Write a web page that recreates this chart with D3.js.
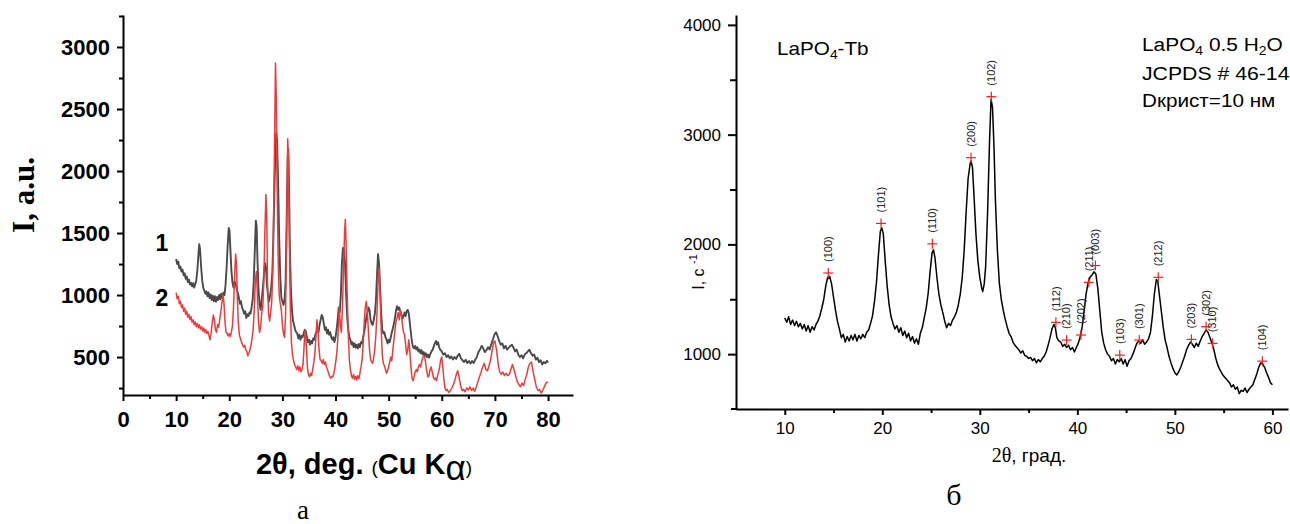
<!DOCTYPE html>
<html><head><meta charset="utf-8">
<script src="https://cdn.jsdelivr.net/npm/d3@7"></script>
<style>body{margin:0;background:#fff}svg{display:block}</style>
</head><body><svg id="c" width="1290" height="524"></svg>
<script>
// ---------- DATA: left panel (a) ----------
const leftXTicks = [0,10,20,30,40,50,60,70,80];
const leftXMinor = [5,15,25,35,45,55,65,75];
const leftYTicks = [500,1000,1500,2000,2500,3000];
const leftYMinor = [250,750,1250,1750,2250,2750,3250];
const seriesLabels = ["1","2"];
// sample 1 (gray): [2theta, intensity]
const sample1 = [[10.0,1290],[10.2,1250],[10.4,1270],[10.6,1215],[10.8,1230],[11.0,1190],[11.2,1205],[11.4,1160],[11.6,1175],[11.8,1130],[12.0,1150],[12.2,1105],[12.4,1125],[12.6,1085],[12.8,1100],[13.0,1070],[13.2,1095],[13.4,1060],[13.6,1090],[13.8,1120],[14.0,1200],[14.2,1330],[14.35,1410],[14.5,1370],[14.7,1230],[14.9,1120],[15.1,1060],[15.3,1035],[15.5,1010],[15.7,1030],[15.9,990],[16.1,1020],[16.3,975],[16.5,1005],[16.7,960],[16.9,995],[17.1,950],[17.3,990],[17.5,945],[17.7,985],[17.9,960],[18.1,1000],[18.3,965],[18.5,1010],[18.7,975],[18.9,1020],[19.1,1000],[19.3,1080],[19.5,1220],[19.7,1400],[19.9,1540],[20.05,1520],[20.2,1380],[20.4,1200],[20.6,1100],[20.8,1060],[21.0,1110],[21.2,1090],[21.4,1050],[21.6,1020],[21.8,980],[22.0,930],[22.2,950],[22.4,900],[22.6,880],[22.8,850],[23.0,870],[23.2,815],[23.4,845],[23.6,830],[23.8,860],[24.0,850],[24.2,900],[24.4,960],[24.6,1100],[24.8,1350],[25.0,1600],[25.15,1560],[25.3,1300],[25.5,1050],[25.7,930],[25.9,880],[26.1,960],[26.3,1050],[26.5,1150],[26.7,1260],[26.9,1230],[27.1,1080],[27.3,990],[27.5,950],[27.7,1000],[27.9,1060],[28.1,1180],[28.3,1450],[28.5,1850],[28.7,2200],[28.85,2310],[29.0,2250],[29.2,1900],[29.4,1450],[29.6,1150],[29.8,980],[30.0,950],[30.2,920],[30.4,960],[30.6,1100],[30.8,1600],[31.0,2100],[31.1,2180],[31.25,1900],[31.4,1400],[31.6,1050],[31.8,880],[32.0,790],[32.2,760],[32.4,720],[32.6,700],[32.8,690],[33.0,650],[33.2,680],[33.4,640],[33.6,670],[33.8,660],[34.0,690],[34.2,720],[34.4,710],[34.6,660],[34.8,620],[35.0,640],[35.2,600],[35.4,630],[35.6,610],[35.8,650],[36.0,640],[36.2,680],[36.4,700],[36.6,730],[36.8,700],[37.0,760],[37.2,800],[37.4,840],[37.6,820],[37.8,770],[38.0,720],[38.2,740],[38.4,690],[38.6,720],[38.8,680],[39.0,700],[39.2,660],[39.4,640],[39.6,660],[39.8,620],[40.0,660],[40.2,720],[40.4,800],[40.6,900],[40.8,860],[41.0,1000],[41.2,1250],[41.4,1380],[41.6,1360],[41.8,1250],[42.0,1000],[42.2,820],[42.4,720],[42.6,660],[42.8,640],[43.0,600],[43.2,620],[43.4,580],[43.6,610],[43.8,575],[44.0,600],[44.2,570],[44.4,605],[44.6,580],[44.8,620],[45.0,610],[45.2,660],[45.4,700],[45.6,760],[45.8,820],[46.0,860],[46.2,900],[46.4,880],[46.6,800],[46.8,770],[47.0,760],[47.2,800],[47.4,850],[47.6,950],[47.8,1150],[48.0,1330],[48.2,1250],[48.4,1050],[48.6,850],[48.8,720],[49.0,690],[49.2,700],[49.4,660],[49.6,640],[49.8,610],[50.0,640],[50.2,620],[50.4,660],[50.6,700],[50.8,730],[51.0,770],[51.2,820],[51.4,880],[51.6,910],[51.8,880],[52.0,900],[52.2,870],[52.4,840],[52.6,810],[52.8,830],[53.0,860],[53.2,830],[53.4,870],[53.6,880],[53.8,850],[54.0,770],[54.2,690],[54.4,620],[54.6,580],[54.8,570],[55.0,590],[55.2,560],[55.4,580],[55.6,545],[55.8,560],[56.0,530],[56.2,555],[56.4,520],[56.6,540],[56.8,510],[57.0,530],[57.2,500],[57.4,520],[57.6,495],[57.8,520],[58.0,540],[58.3,560],[58.6,600],[58.9,630],[59.1,600],[59.3,620],[59.5,580],[59.7,560],[60.0,545],[60.3,520],[60.6,530],[60.9,500],[61.2,515],[61.5,490],[61.8,505],[62.1,480],[62.4,500],[62.7,485],[63.0,510],[63.3,525],[63.6,490],[63.9,475],[64.2,460],[64.5,478],[64.8,452],[65.1,468],[65.4,448],[65.7,468],[66.0,452],[66.3,480],[66.6,500],[66.9,540],[67.2,560],[67.5,590],[67.8,570],[68.1,540],[68.4,555],[68.7,580],[69.0,560],[69.3,600],[69.6,640],[69.9,680],[70.2,700],[70.5,670],[70.8,630],[71.1,600],[71.4,610],[71.7,570],[72.0,590],[72.3,560],[72.6,575],[72.9,590],[73.2,600],[73.5,575],[73.8,545],[74.1,560],[74.4,520],[74.7,500],[75.0,515],[75.3,490],[75.6,520],[75.9,530],[76.2,545],[76.5,560],[76.8,530],[77.1,510],[77.4,520],[77.7,480],[78.0,495],[78.3,460],[78.6,475],[78.9,440],[79.2,460],[79.5,450],[79.8,470],[80.0,455]];
// sample 2 (red)
const sample2 = [[10.0,1020],[10.2,970],[10.4,990],[10.6,930],[10.8,950],[11.0,900],[11.2,920],[11.4,870],[11.6,895],[11.8,845],[12.0,870],[12.2,820],[12.4,845],[12.6,800],[12.8,825],[13.0,780],[13.2,800],[13.4,760],[13.6,785],[13.8,745],[14.0,770],[14.2,735],[14.4,760],[14.6,725],[14.8,745],[15.0,710],[15.2,735],[15.4,700],[15.6,720],[15.8,690],[16.0,705],[16.2,670],[16.4,640],[16.6,700],[16.8,780],[17.0,840],[17.2,800],[17.4,720],[17.6,700],[17.8,760],[18.0,740],[18.2,800],[18.4,860],[18.6,930],[18.8,1000],[19.0,940],[19.2,780],[19.4,700],[19.6,690],[19.8,670],[20.0,690],[20.2,665],[20.4,700],[20.6,750],[20.8,900],[21.0,1150],[21.2,1330],[21.35,1260],[21.5,1000],[21.7,780],[21.9,680],[22.1,650],[22.3,620],[22.5,600],[22.7,580],[22.9,595],[23.1,560],[23.3,545],[23.5,510],[23.7,530],[23.9,560],[24.1,600],[24.3,650],[24.5,720],[24.7,880],[24.9,1100],[25.1,1190],[25.3,1000],[25.5,780],[25.7,700],[25.9,740],[26.1,850],[26.3,900],[26.5,1100],[26.7,1500],[26.9,1810],[27.05,1650],[27.2,1100],[27.4,850],[27.6,790],[27.8,860],[28.0,950],[28.2,1200],[28.4,1800],[28.6,2500],[28.7,2870],[28.85,2600],[29.0,1900],[29.2,1300],[29.4,1000],[29.6,930],[29.8,880],[30.0,760],[30.2,690],[30.4,660],[30.6,850],[30.8,1500],[31.0,2260],[31.15,2100],[31.3,1500],[31.5,900],[31.7,620],[31.9,520],[32.1,470],[32.3,440],[32.5,420],[32.7,400],[32.9,430],[33.1,390],[33.3,420],[33.5,380],[33.7,400],[33.9,450],[34.1,600],[34.3,720],[34.5,600],[34.7,420],[34.9,360],[35.1,340],[35.3,370],[35.5,350],[35.7,400],[35.9,450],[36.1,520],[36.3,650],[36.5,800],[36.7,720],[36.9,560],[37.1,480],[37.3,470],[37.5,450],[37.7,480],[37.9,440],[38.1,460],[38.3,420],[38.5,400],[38.7,370],[38.9,345],[39.1,330],[39.3,345],[39.5,340],[39.7,370],[39.9,420],[40.1,480],[40.3,560],[40.5,700],[40.7,900],[40.9,760],[41.1,700],[41.3,900],[41.5,1200],[41.7,1500],[41.85,1610],[42.0,1400],[42.2,1000],[42.4,700],[42.6,480],[42.8,400],[43.0,350],[43.2,330],[43.4,360],[43.6,320],[43.8,345],[44.0,315],[44.2,350],[44.4,325],[44.6,370],[44.8,420],[45.0,480],[45.2,600],[45.4,780],[45.6,900],[45.8,950],[46.0,860],[46.2,700],[46.4,560],[46.6,480],[46.8,460],[47.0,450],[47.2,500],[47.4,560],[47.6,680],[47.8,850],[48.0,1100],[48.2,1220],[48.4,1000],[48.6,720],[48.8,520],[49.0,450],[49.2,430],[49.4,400],[49.6,370],[49.8,390],[50.0,420],[50.2,460],[50.4,500],[50.6,470],[50.8,560],[51.0,640],[51.2,720],[51.4,790],[51.6,820],[51.8,860],[52.0,800],[52.2,880],[52.4,850],[52.6,760],[52.8,700],[53.0,680],[53.2,600],[53.4,520],[53.6,560],[53.8,640],[54.0,540],[54.2,420],[54.4,330],[54.6,310],[54.8,340],[55.0,380],[55.2,400],[55.4,380],[55.6,420],[55.8,440],[56.0,420],[56.2,460],[56.4,490],[56.6,510],[56.8,500],[57.0,440],[57.2,380],[57.4,340],[57.6,350],[57.8,400],[58.0,420],[58.2,380],[58.4,340],[58.6,320],[58.8,330],[59.0,310],[59.2,350],[59.4,380],[59.6,420],[59.8,480],[60.0,500],[60.2,420],[60.4,320],[60.6,250],[60.8,230],[61.0,240],[61.3,215],[61.6,230],[61.9,250],[62.2,280],[62.5,320],[62.8,370],[63.0,390],[63.2,350],[63.5,280],[63.8,230],[64.1,240],[64.4,220],[64.7,250],[65.0,235],[65.3,260],[65.6,230],[65.9,250],[66.2,225],[66.5,260],[66.8,300],[67.1,340],[67.4,380],[67.7,420],[68.0,450],[68.3,400],[68.6,390],[68.9,430],[69.2,480],[69.5,560],[69.8,620],[70.0,630],[70.3,560],[70.6,450],[70.9,380],[71.2,360],[71.5,380],[71.8,350],[72.1,370],[72.4,350],[72.7,360],[73.0,400],[73.3,440],[73.6,400],[73.9,350],[74.2,300],[74.5,280],[74.8,260],[75.1,290],[75.4,270],[75.7,320],[76.0,360],[76.3,420],[76.6,450],[76.9,460],[77.2,380],[77.5,320],[77.8,260],[78.1,230],[78.4,240],[78.7,210],[79.0,230],[79.3,260],[79.6,290],[80.0,300]];

// ---------- DATA: right panel (б) ----------
const rightXTicks = [10,20,30,40,50,60];
const rightXMinor = [15,25,35,45,55];
const rightYTicks = [1000,2000,3000,4000];
const rightYMinor = [1500,2500,3500];
const pattern = [[10.0,1330],[10.2,1290],[10.4,1340],[10.6,1270],[10.8,1310],[11.0,1260],[11.2,1300],[11.4,1250],[11.6,1280],[11.8,1230],[12.0,1270],[12.2,1210],[12.4,1260],[12.6,1200],[12.8,1250],[13.0,1220],[13.2,1270],[13.4,1300],[13.6,1350],[13.8,1420],[14.0,1500],[14.2,1620],[14.4,1700],[14.5,1690],[14.6,1710],[14.8,1640],[15.0,1520],[15.2,1400],[15.4,1300],[15.6,1230],[15.8,1150],[16.0,1180],[16.2,1110],[16.4,1160],[16.6,1120],[16.8,1170],[17.0,1130],[17.2,1180],[17.4,1120],[17.6,1170],[17.8,1140],[18.0,1180],[18.2,1150],[18.4,1200],[18.6,1220],[18.8,1280],[19.0,1350],[19.2,1480],[19.4,1650],[19.6,1900],[19.8,2120],[19.95,2150],[20.1,2100],[20.3,1850],[20.5,1620],[20.7,1450],[20.9,1340],[21.1,1280],[21.3,1230],[21.5,1260],[21.7,1200],[21.9,1240],[22.1,1170],[22.3,1210],[22.5,1150],[22.7,1190],[22.9,1120],[23.1,1160],[23.3,1100],[23.5,1140],[23.7,1090],[23.9,1190],[24.1,1240],[24.3,1330],[24.5,1420],[24.7,1550],[24.9,1750],[25.1,1920],[25.25,1950],[25.4,1880],[25.6,1700],[25.8,1550],[26.0,1450],[26.2,1380],[26.4,1300],[26.6,1240],[26.8,1280],[27.0,1260],[27.2,1310],[27.4,1340],[27.6,1380],[27.8,1450],[28.0,1550],[28.2,1700],[28.4,1950],[28.6,2300],[28.8,2600],[29.0,2730],[29.1,2760],[29.25,2700],[29.4,2450],[29.6,2100],[29.8,1850],[30.0,1700],[30.2,1600],[30.3,1570],[30.45,1640],[30.6,1800],[30.8,2300],[31.0,2950],[31.15,3320],[31.3,3250],[31.45,2900],[31.6,2400],[31.8,1950],[32.0,1650],[32.2,1500],[32.4,1400],[32.6,1320],[32.8,1250],[33.0,1190],[33.2,1160],[33.4,1110],[33.6,1080],[33.8,1060],[34.0,1040],[34.2,1010],[34.4,1030],[34.6,990],[34.8,980],[35.0,960],[35.2,970],[35.4,940],[35.6,960],[35.8,920],[36.0,950],[36.2,930],[36.4,960],[36.6,980],[36.8,1020],[37.0,1080],[37.2,1150],[37.4,1230],[37.6,1270],[37.75,1240],[37.9,1150],[38.1,1120],[38.3,1110],[38.5,1070],[38.7,1090],[38.9,1060],[39.1,1080],[39.3,1040],[39.5,1060],[39.7,1020],[39.9,1060],[40.1,1100],[40.3,1160],[40.5,1250],[40.7,1400],[40.9,1550],[41.1,1650],[41.3,1700],[41.5,1720],[41.7,1750],[41.9,1730],[42.1,1600],[42.3,1400],[42.5,1200],[42.7,1100],[42.9,1040],[43.1,1000],[43.3,980],[43.5,940],[43.7,960],[43.9,910],[44.1,950],[44.3,930],[44.5,960],[44.7,910],[44.9,950],[45.1,890],[45.3,940],[45.5,960],[45.7,1000],[45.9,1050],[46.1,1100],[46.3,1120],[46.5,1100],[46.7,1130],[46.9,1090],[47.1,1110],[47.3,1140],[47.5,1200],[47.7,1350],[47.9,1550],[48.1,1680],[48.25,1660],[48.4,1550],[48.6,1400],[48.8,1250],[49.0,1130],[49.2,1060],[49.4,980],[49.6,920],[49.8,870],[50.0,830],[50.2,810],[50.4,840],[50.6,880],[50.8,930],[51.0,980],[51.2,1040],[51.4,1080],[51.6,1110],[51.8,1090],[52.0,1060],[52.2,1100],[52.4,1070],[52.6,1120],[52.8,1160],[53.0,1190],[53.2,1220],[53.4,1200],[53.6,1150],[53.8,1100],[54.0,1040],[54.2,960],[54.4,900],[54.6,860],[54.8,830],[55.0,800],[55.2,780],[55.4,760],[55.6,740],[55.8,700],[56.0,720],[56.2,680],[56.4,700],[56.6,640],[56.8,670],[57.0,660],[57.2,690],[57.4,650],[57.6,680],[57.8,700],[58.0,720],[58.2,770],[58.4,820],[58.6,880],[58.8,920],[59.0,910],[59.2,880],[59.4,830],[59.6,790],[59.8,740],[60.0,720]];
const peakLabels = ["(100)","(101)","(110)","(200)","(102)","(112)","(210)","(202)","(211)","(003)","(103)","(301)","(212)","(203)","(302)","(310)","(104)"];
const peakX = [14.46,19.87,25.13,29.1,31.18,37.8,38.9,40.37,41.17,41.85,44.35,46.35,48.3,51.7,53.2,53.87,58.97];
const peakY = [1739,2191,2005,2790,3346,1290,1128,1174,1654,1807,991,1128,1700,1134,1250,1098,936];

// ---------- DRAW ----------
const svg = d3.select("#c");
const SANS = "'Liberation Sans', Arial, sans-serif";
const SERIF = "'Liberation Serif', 'Times New Roman', serif";
const lineGen = (x, y) => d3.line().x(d => x(d[0])).y(d => y(d[1]));

// Left panel
const xL = d3.scaleLinear().domain([0, 84.7]).range([123, 573]);
const yL = d3.scaleLinear().domain([194, 3258]).range([395, 15]);

svg.append("path").datum(sample1).attr("d", lineGen(xL, yL))
  .attr("fill", "none").attr("stroke", "#4a4a4a").attr("stroke-width", 1.9).attr("stroke-linejoin", "round");
svg.append("path").datum(sample2).attr("d", lineGen(xL, yL))
  .attr("fill", "none").attr("stroke", "#ee3a3a").attr("stroke-width", 1.5).attr("stroke-linejoin", "round");

function styleAxis(g, font, size, weight, sw) {
  g.select(".domain").attr("stroke", "#000").attr("stroke-width", sw);
  g.selectAll(".tick line").attr("stroke", "#000").attr("stroke-width", sw);
  g.selectAll(".tick text").attr("fill", "#000").attr("font-family", font)
    .attr("font-size", size).attr("font-weight", weight);
}

const gxL = svg.append("g").attr("transform", "translate(0,395)")
  .call(d3.axisBottom(xL).tickValues(leftXTicks).tickSize(6).tickSizeOuter(0).tickPadding(10).tickFormat(d3.format("d")));
styleAxis(gxL, SANS, 22, "bold", 2);
const gxLm = svg.append("g").attr("transform", "translate(0,395)")
  .call(d3.axisBottom(xL).tickValues(leftXMinor).tickSize(4).tickFormat(""));
gxLm.select(".domain").remove();
gxLm.selectAll(".tick line").attr("stroke", "#000").attr("stroke-width", 2);

const gyL = svg.append("g").attr("transform", "translate(123,0)")
  .call(d3.axisLeft(yL).tickValues(leftYTicks).tickSize(6).tickSizeOuter(0).tickPadding(7).tickFormat(d3.format("d")));
styleAxis(gyL, SANS, 22, "bold", 2);
const gyLm = svg.append("g").attr("transform", "translate(123,0)")
  .call(d3.axisLeft(yL).tickValues(leftYMinor).tickSize(4).tickFormat(""));
gyLm.select(".domain").remove();
gyLm.selectAll(".tick line").attr("stroke", "#000").attr("stroke-width", 2);

// series numbers
svg.append("text").attr("x", 162).attr("y", 251).attr("text-anchor", "middle")
  .attr("font-family", SANS).attr("font-weight", "bold").attr("font-size", 23).text(seriesLabels[0]);
svg.append("text").attr("x", 162).attr("y", 306).attr("text-anchor", "middle")
  .attr("font-family", SANS).attr("font-weight", "bold").attr("font-size", 23).text(seriesLabels[1]);

// y label left
svg.append("text").attr("transform", "translate(34,195) rotate(-90)").attr("text-anchor", "middle")
  .attr("font-family", SERIF).attr("font-weight", "bold").attr("font-size", 31).text("I, a.u.");

// x label left
const xlab = svg.append("text").attr("x", 364).attr("y", 474).attr("text-anchor", "middle")
  .attr("font-family", SANS).attr("font-weight", "bold").attr("font-size", 29);
xlab.append("tspan").text("2\u03b8, deg. ");
xlab.append("tspan").attr("font-size", 19).attr("font-weight", "normal").text("(");
xlab.append("tspan").text("Cu K");
xlab.append("tspan").attr("font-size", 35).attr("font-weight", "normal").attr("dy", 6).text("\u03b1");
xlab.append("tspan").attr("font-size", 19).attr("font-weight", "normal").attr("dy", -6).text(")");

svg.append("text").attr("x", 303).attr("y", 519).attr("text-anchor", "middle")
  .attr("font-family", SERIF).attr("font-size", 27).text("a");

// Right panel
const xR = d3.scaleLinear().domain([5, 61.6]).range([736, 1288]);
const yR = d3.scaleLinear().domain([500, 4090]).range([409, 15]);

svg.append("path").datum(pattern).attr("d", lineGen(xR, yR))
  .attr("fill", "none").attr("stroke", "#000").attr("stroke-width", 1.5).attr("stroke-linejoin", "round");

const gxR = svg.append("g").attr("transform", "translate(0,409)")
  .call(d3.axisBottom(xR).tickValues(rightXTicks).tickSize(6).tickSizeOuter(0).tickPadding(7).tickFormat(d3.format("d")));
styleAxis(gxR, SANS, 17, "normal", 2);
const gxRm = svg.append("g").attr("transform", "translate(0,409)")
  .call(d3.axisBottom(xR).tickValues(rightXMinor).tickSize(4).tickFormat(""));
gxRm.select(".domain").remove();
gxRm.selectAll(".tick line").attr("stroke", "#000").attr("stroke-width", 2);
svg.append("line").attr("x1", 731).attr("x2", 737).attr("y1", 409).attr("y2", 409)
  .attr("stroke", "#000").attr("stroke-width", 2);

const gyR = svg.append("g").attr("transform", "translate(736,0)")
  .call(d3.axisLeft(yR).tickValues(rightYTicks).tickSize(8).tickSizeOuter(0).tickPadding(7).tickFormat(d3.format("d")));
styleAxis(gyR, SANS, 17, "normal", 2);
const gyRm = svg.append("g").attr("transform", "translate(736,0)")
  .call(d3.axisLeft(yR).tickValues(rightYMinor).tickSize(6).tickFormat(""));
gyRm.select(".domain").remove();
gyRm.selectAll(".tick line").attr("stroke", "#000").attr("stroke-width", 2);

// peak markers and labels
const peaks = peakLabels.map((l, i) => ({ l, x: peakX[i], y: peakY[i] }));
const pm = svg.append("g").selectAll("g").data(peaks).join("g")
  .attr("transform", d => `translate(${xR(d.x)},${yR(d.y)})`);
pm.append("line").attr("x1", -5).attr("x2", 5).attr("y1", 0).attr("y2", 0).attr("stroke", "#ff1a1a").attr("stroke-width", 1.2);
pm.append("line").attr("x1", 0).attr("x2", 0).attr("y1", -5).attr("y2", 5).attr("stroke", "#ff1a1a").attr("stroke-width", 1.2);
pm.append("text").attr("transform", "translate(0,-11) rotate(-90)").attr("dy", "0.35em")
  .attr("font-family", SANS).attr("font-size", 11).attr("fill", "#222").text(d => d.l);

// annotations
function stretched(x, y, sx) {
  return svg.append("g").attr("transform", `translate(${x},${y}) scale(${sx},1)`)
    .append("text").attr("x", 0).attr("y", 0).attr("font-family", SANS).attr("font-size", 18).attr("fill", "#000");
}
const t1 = stretched(777, 55, 1.15);
t1.append("tspan").text("LaPO");
t1.append("tspan").attr("font-size", 12).attr("dy", 4).text("4");
t1.append("tspan").attr("dy", -4).text("-Tb");

const t2 = stretched(1142, 51, 1.16);
t2.append("tspan").text("LaPO");
t2.append("tspan").attr("font-size", 12).attr("dy", 4).text("4");
t2.append("tspan").attr("dy", -4).text(" 0.5 H");
t2.append("tspan").attr("font-size", 12).attr("dy", 4).text("2");
t2.append("tspan").attr("dy", -4).text("O");

stretched(1142, 80, 1.18).text("JCPDS # 46-14");
stretched(1142, 107, 1.15).text("D\u043a\u0440\u0438\u0441\u0442=10 \u043d\u043c");

// y label right
const ylR = svg.append("text").attr("transform", "translate(704,272) rotate(-90)").attr("text-anchor", "middle")
  .attr("font-family", SANS).attr("font-size", 16).attr("fill", "#000");
ylR.append("tspan").text("I, c ");
ylR.append("tspan").attr("font-size", 11).attr("dy", -7).text("-1");

// x label right
const xlR = svg.append("text").attr("x", 1029).attr("y", 462).attr("text-anchor", "middle")
  .attr("font-family", SANS).attr("font-size", 19).attr("fill", "#000");
xlR.append("tspan").attr("font-family", SERIF).attr("font-size", 20).text("2\u03b8");
xlR.append("tspan").text(", \u0433\u0440\u0430\u0434.");

svg.append("text").attr("x", 954).attr("y", 505).attr("text-anchor", "middle")
  .attr("font-family", SERIF).attr("font-size", 30).text("\u0431");
</script>
</body></html>
